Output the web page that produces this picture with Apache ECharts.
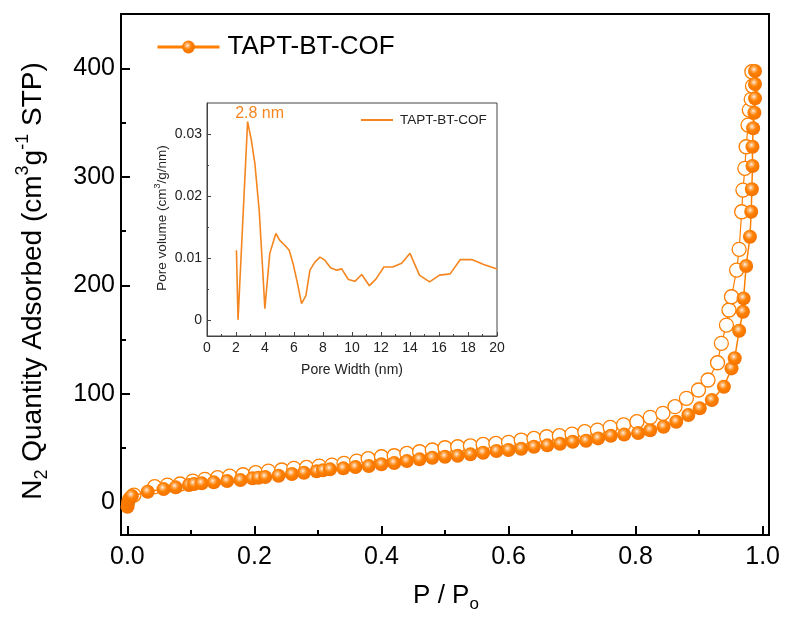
<!DOCTYPE html>
<html>
<head>
<meta charset="utf-8">
<script src="https://cdn.jsdelivr.net/npm/echarts@6/dist/echarts.min.js"></script>
<style>
  html, body { margin: 0; padding: 0; background: #fff; }
  #chart { width: 787px; height: 620px; }
</style>
</head>
<body>
<div id="chart"></div>
<script>
// N2 isotherm of TAPT-BT-COF: adsorption branch (relative pressure, quantity)
const adsP = [0.0003, 0.001, 0.002, 0.004, 0.007, 0.032, 0.057, 0.076, 0.097, 0.105, 0.117, 0.136, 0.157, 0.178,
  0.197, 0.206, 0.217, 0.238, 0.259, 0.278, 0.298, 0.308, 0.319, 0.34, 0.359, 0.38, 0.40, 0.42, 0.44, 0.46,
  0.48, 0.50, 0.52, 0.54, 0.56, 0.581, 0.60, 0.62, 0.64, 0.661, 0.681, 0.701, 0.722, 0.741, 0.761, 0.782,
  0.804, 0.823, 0.844, 0.864, 0.883, 0.901, 0.920, 0.939, 0.951, 0.956, 0.963, 0.969, 0.970, 0.974, 0.980,
  0.982, 0.983, 0.984, 0.984, 0.985, 0.987, 0.988, 0.988, 0.988];
const adsQ = [-4, -1, 2, 4, 6, 9.9, 12.3, 13.9, 16, 17, 17.6, 18.5, 19.7, 20.6,
  22.2, 22.8, 23.4, 24.6, 26.2, 27.4, 28.7, 29.6, 30.5, 31.4, 32.6, 33.6, 35.2, 36.3, 38.1, 39.7,
  41.2, 42.1, 43, 44.3, 45.8, 47.4, 48.3, 49.5, 51.3, 52.6, 54.1, 55.9, 56.8, 59, 61.5, 62.5,
  64, 66.5, 69.7, 74.4, 80.5, 86.7, 94.3, 106.6, 123.5, 132.8, 158.2, 175.7, 188, 217.8, 244.8,
  267.8, 288.5, 310, 327.7, 344.7, 359, 372.3, 385.5, 397.5];

// Desorption branch
const desP = [0.0104, 0.043, 0.063, 0.083, 0.103, 0.122, 0.142, 0.161, 0.182, 0.202, 0.222, 0.243, 0.262, 0.282,
  0.302, 0.322, 0.341, 0.361, 0.379, 0.40, 0.42, 0.44, 0.46, 0.48, 0.50, 0.52, 0.54, 0.56, 0.58, 0.60,
  0.62, 0.64, 0.66, 0.68, 0.70, 0.72, 0.74, 0.76, 0.781, 0.802, 0.823, 0.843, 0.862, 0.880, 0.899, 0.914,
  0.929, 0.935, 0.943, 0.947, 0.951, 0.959, 0.963, 0.967, 0.969, 0.972, 0.974, 0.977, 0.979, 0.982, 0.984, 0.983];
const desQ = [6.8, 14.5, 16, 17, 19.7, 21.3, 22.8, 24.3, 25.5, 27.4, 28.9, 29.9, 31.4, 32.3,
  33.5, 34.4, 36, 38.1, 40.3, 42.1, 43, 45.2, 46.7, 48.3, 50.4, 51.3, 52.2, 53.5, 54.4, 55.4,
  57.5, 59, 60.5, 61.5, 63, 65.2, 66.7, 69.2, 71.5, 74.4, 78.4, 82.1, 88.2, 95.9, 103.6, 112.8,
  128.7, 146.6, 163.4, 177.3, 189.5, 214.1, 233.2, 267.8, 287.8, 307.8, 327.7, 347.7, 361.5, 371.4, 383.6, 396.8];

// Pore size distribution (inset)
const PEAK_WIDTH = 2.8;
const PEAK_VOLUME = 0.032;
const poreWidth = [2.03, 2.14, 2.2, PEAK_WIDTH, 2.9, 3.06, 3.3, 3.6, 3.87, 3.99, 4.33, 4.75, 5.02, 5.37, 5.67,
  5.94, 6.22, 6.52, 6.82, 7.1, 7.44, 7.79, 8.13, 8.52, 8.94, 9.29, 9.75, 10.2, 10.67, 11.2, 11.66, 12.2,
  12.8, 13.43, 14.0, 14.65, 15.35, 16.04, 16.77, 17.47, 18.27, 19.08, 20.0];
const poreVolume = [0.0113, 0.0001, -0.0002, PEAK_VOLUME, 0.0317, 0.029, 0.0253, 0.0177, 0.007, 0.0019, 0.0108, 0.014,
  0.0129, 0.0121, 0.0113, 0.0091, 0.0062, 0.0027, 0.004, 0.0081, 0.0094, 0.0102, 0.0097, 0.0085, 0.0081,
  0.0083, 0.0066, 0.0063, 0.0074, 0.0056, 0.0067, 0.0086, 0.0086, 0.0092, 0.0108, 0.0073, 0.0062, 0.0073,
  0.0075, 0.0098, 0.0098, 0.009, 0.0083];

// Tick values
const xMajorTicks = [0, 0.2, 0.4, 0.6, 0.8, 1.0];
const xMinorTicks = [0.1, 0.3, 0.5, 0.7, 0.9];
const yMajorTicks = [0, 100, 200, 300, 400];
const yMinorTicks = [50, 150, 250, 350];
const insetYMajorTicks = [0, 0.01, 0.02, 0.03];
const insetYMinorTicks = [0.005, 0.015, 0.025];

const FONT = "'Liberation Sans', Arial, sans-serif";
const ORANGE = '#FF7F00';
const INSET_ORANGE = '#F5861F';

const zip = (a, b) => a.map((v, i) => [v, b[i]]);

const filledMarker = {
  type: 'radial', x: 0.42, y: 0.38, r: 0.62,
  colorStops: [
    { offset: 0, color: '#FFF4E8' },
    { offset: 0.22, color: '#FFB56E' },
    { offset: 0.5, color: '#FF8000' },
    { offset: 1, color: '#F27200' }
  ]
};

const chart = echarts.init(document.getElementById('chart'), null, { renderer: 'canvas' });

const mainTickStyle = { color: '#000', width: 2 };
const insetTickStyle = { color: '#444', width: 1 };

// Main plot rectangle and inset rectangle; each gets a twin grid that only carries minor ticks
const mainRect = { left: 121, top: 14, width: 648, height: 521 };
const insetRect = { left: 207, top: 103, width: 290, height: 233 };

const hiddenLine = { show: false, onZero: false };

chart.setOption({
  animation: false,
  backgroundColor: '#fff',
  grid: [
    Object.assign({ show: true, borderColor: '#000', borderWidth: 2, backgroundColor: 'transparent' }, mainRect),
    Object.assign({ show: true, borderColor: '#444', borderWidth: 1, backgroundColor: 'transparent' }, insetRect),
    Object.assign({ show: false }, mainRect),
    Object.assign({ show: false }, insetRect)
  ],
  xAxis: [
    {
      gridIndex: 0, type: 'value', min: -0.01, max: 1.01, position: 'bottom',
      axisLine: { onZero: false, lineStyle: { color: '#000', width: 2 } },
      axisTick: { inside: true, length: 9, customValues: xMajorTicks, lineStyle: mainTickStyle },
      axisLabel: { customValues: xMajorTicks, formatter: v => v.toFixed(1), fontSize: 25, fontFamily: FONT, color: '#000', margin: 10 },
      splitLine: { show: false }
    },
    {
      gridIndex: 1, type: 'value', min: 0, max: 20, interval: 2, position: 'bottom',
      axisLine: { onZero: false, lineStyle: insetTickStyle },
      axisTick: { inside: true, length: 4, lineStyle: insetTickStyle },
      minorTick: { show: true, splitNumber: 2, length: 2, lineStyle: insetTickStyle },
      axisLabel: { fontSize: 14, fontFamily: FONT, color: '#222', margin: 5 },
      splitLine: { show: false }
    },
    {
      gridIndex: 2, type: 'value', min: -0.01, max: 1.01, position: 'bottom',
      axisLine: hiddenLine,
      axisTick: { inside: true, length: 5, customValues: xMinorTicks, lineStyle: mainTickStyle },
      axisLabel: { show: false },
      splitLine: { show: false }
    },
    {
      gridIndex: 3, type: 'value', min: 0, max: 20, position: 'bottom',
      axisLine: hiddenLine, axisTick: { show: false }, axisLabel: { show: false }, splitLine: { show: false }
    }
  ],
  yAxis: [
    {
      gridIndex: 0, type: 'value', min: -30, max: 450, position: 'left',
      axisLine: { onZero: false, lineStyle: { color: '#000', width: 2 } },
      axisTick: { inside: true, length: 9, customValues: yMajorTicks, lineStyle: mainTickStyle },
      axisLabel: { customValues: yMajorTicks, fontSize: 25, fontFamily: FONT, color: '#000', margin: 6 },
      splitLine: { show: false }
    },
    {
      gridIndex: 1, type: 'value', min: -0.0025, max: 0.035, position: 'left',
      axisLine: { onZero: false, lineStyle: insetTickStyle },
      axisTick: { inside: true, length: 4, customValues: insetYMajorTicks, lineStyle: insetTickStyle },
      axisLabel: { customValues: insetYMajorTicks, formatter: v => (v === 0 ? '0' : v.toFixed(2)), fontSize: 14, fontFamily: FONT, color: '#222', margin: 5 },
      splitLine: { show: false }
    },
    {
      gridIndex: 2, type: 'value', min: -30, max: 450, position: 'left',
      axisLine: hiddenLine,
      axisTick: { inside: true, length: 5, customValues: yMinorTicks, lineStyle: mainTickStyle },
      axisLabel: { show: false },
      splitLine: { show: false }
    },
    {
      gridIndex: 3, type: 'value', min: -0.0025, max: 0.035, position: 'left',
      axisLine: hiddenLine,
      axisTick: { inside: true, length: 2, customValues: insetYMinorTicks, lineStyle: insetTickStyle },
      axisLabel: { show: false },
      splitLine: { show: false }
    }
  ],
  legend: [
    {
      data: ['TAPT-BT-COF'],
      left: 151, top: 29,
      itemWidth: 62, itemHeight: 16, itemGap: 0,
      selectedMode: false,
      lineStyle: { width: 3, color: ORANGE },
      textStyle: { fontSize: 26, fontFamily: FONT, color: '#000', padding: [0, 0, 0, 3] }
    },
    {
      data: ['TAPT-BT-COF PSD'],
      left: 356, top: 108,
      icon: 'rect',
      itemWidth: 32, itemHeight: 2,
      selectedMode: false,
      formatter: () => 'TAPT-BT-COF',
      itemStyle: { color: INSET_ORANGE },
      textStyle: { fontSize: 13.5, fontFamily: FONT, color: '#222', padding: [0, 0, 0, 2] }
    }
  ],
  series: [
    {
      name: 'Desorption', type: 'line', xAxisIndex: 0, yAxisIndex: 0,
      data: zip(desP, desQ),
      symbol: 'circle', symbolSize: 14,
      itemStyle: { color: '#fff', borderColor: ORANGE, borderWidth: 1.3 },
      lineStyle: { color: ORANGE, width: 1.2 },
      z: 2
    },
    {
      name: 'TAPT-BT-COF', type: 'line', xAxisIndex: 0, yAxisIndex: 0,
      data: zip(adsP, adsQ),
      symbol: 'circle', symbolSize: 14,
      itemStyle: { color: filledMarker, borderWidth: 0 },
      lineStyle: { color: ORANGE, width: 1.5 },
      z: 3
    },
    {
      name: 'TAPT-BT-COF PSD', type: 'line', xAxisIndex: 1, yAxisIndex: 1,
      data: zip(poreWidth, poreVolume),
      symbol: 'none',
      lineStyle: { color: INSET_ORANGE, width: 1.6 },
      itemStyle: { color: INSET_ORANGE },
      markPoint: {
        symbol: 'circle', symbolSize: 0,
        data: [{
          coord: [PEAK_WIDTH, PEAK_VOLUME],
          label: {
            show: true, position: 'inside', offset: [12, -8],
            formatter: PEAK_WIDTH.toFixed(1) + ' nm',
            fontSize: 16, fontFamily: FONT, color: INSET_ORANGE
          }
        }]
      },
      z: 4
    }
  ],
  graphic: [
    {
      type: 'text', x: 33, y: 281, rotation: Math.PI / 2,
      style: {
        text: 'N{sub|2} Quantity Adsorbed (cm{sup|3}g{sup|-1} STP)',
        fontSize: 28, fontFamily: FONT, fill: '#000', lineHeight: 37,
        align: 'center', verticalAlign: 'middle',
        rich: {
          sub: { fontSize: 18, fontFamily: FONT, lineHeight: 18, verticalAlign: 'bottom', fill: '#000' },
          sup: { fontSize: 18, fontFamily: FONT, lineHeight: 18, verticalAlign: 'top', fill: '#000' }
        }
      }
    },
    {
      type: 'text', x: 446, y: 596,
      style: {
        text: 'P / P{sub|o}',
        fontSize: 26, fontFamily: FONT, fill: '#000', lineHeight: 34,
        align: 'center', verticalAlign: 'middle',
        rich: {
          sub: { fontSize: 17, fontFamily: FONT, lineHeight: 17, verticalAlign: 'bottom', fill: '#000' }
        }
      }
    },
    {
      type: 'text', x: 162, y: 218, rotation: Math.PI / 2,
      style: {
        text: 'Pore volume (cm{sup|3}/g/nm)',
        fontSize: 13.5, fontFamily: FONT, fill: '#222', lineHeight: 18,
        align: 'center', verticalAlign: 'middle',
        rich: {
          sup: { fontSize: 9, fontFamily: FONT, lineHeight: 9, verticalAlign: 'top', fill: '#222' }
        }
      }
    },
    {
      type: 'text', x: 352, y: 370,
      style: {
        text: 'Pore Width (nm)',
        fontSize: 14, fontFamily: FONT, fill: '#222',
        align: 'center', verticalAlign: 'middle'
      }
    }
  ]
});
</script>
</body>
</html>
